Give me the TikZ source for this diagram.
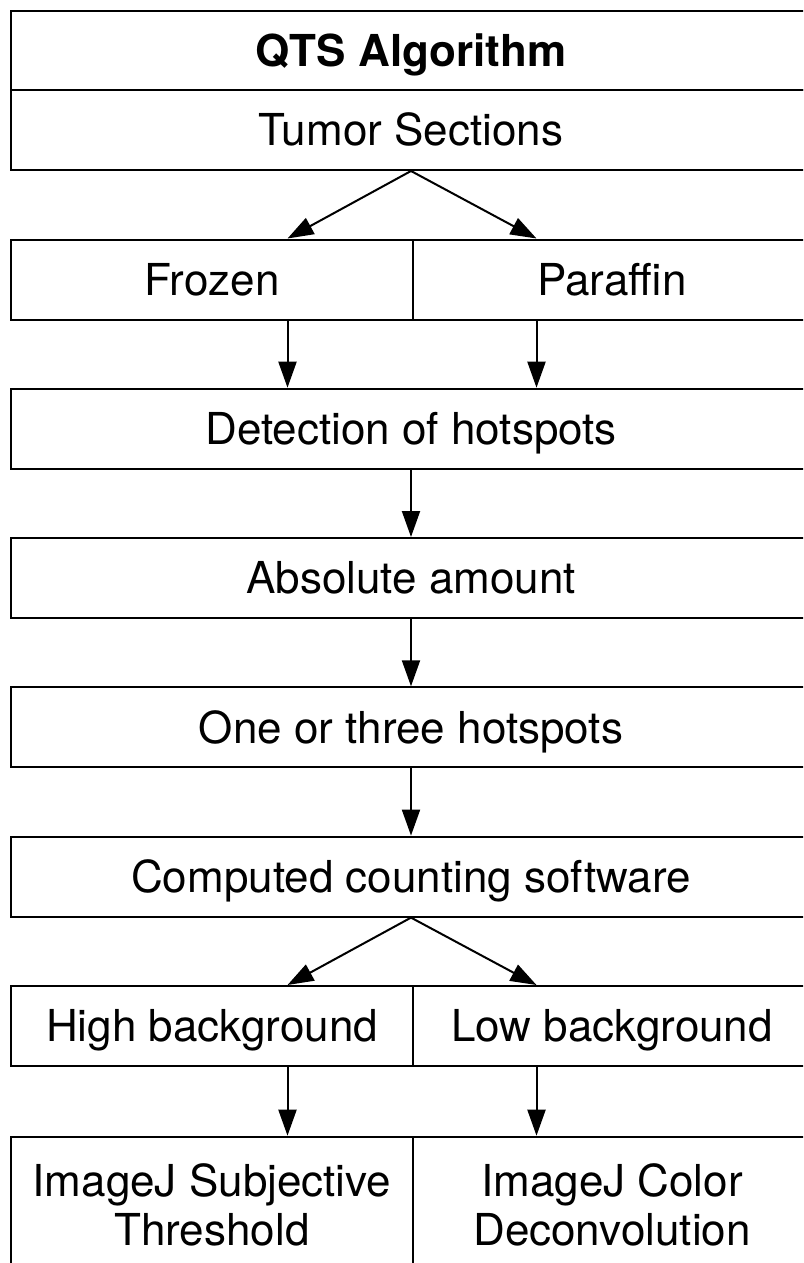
\documentclass[tikz,border=0pt]{standalone}
\usepackage{fontspec}
\setmainfont{TeX Gyre Heros}
\usetikzlibrary{arrows.meta}
\tikzset{
  cell/.style={draw, line width=2pt, inner sep=0pt, align=center,
    font=\fontsize{44}{48.4}\selectfont, minimum height=80pt},
  oneline/.style={text height=31.6pt, text depth=0pt},
  wide/.style={cell, oneline, minimum width=800pt},
  lhalf/.style={cell, minimum width=402pt},
  rhalf/.style={cell, minimum width=398pt},
  arr/.style={line width=2pt, -{Triangle[length=26pt,width=18pt]}}
}
\begin{document}
\begin{tikzpicture}[x=1pt,y=-1pt]
\useasboundingbox (0,0) rectangle (803,1263);
\clip (0,0) rectangle (803,1263);

% columns used by the arrows
\coordinate (colL) at (287.5,0);
\coordinate (colR) at (536.5,0);

% header
\node[wide, minimum height=79pt, font=\fontsize{44}{48.4}\selectfont\bfseries] (qts) at (411,50.5) {QTS Algorithm};
\node[wide] (tumor) at (411,130) {Tumor Sections};

% section type
\node[lhalf, oneline] (frozen) at (212,279.5) {Frozen};
\node[rhalf, oneline] (paraffin) at (612,279.5) {Paraffin};

% pipeline
\node[wide] (detect) at (411,428.7) {Detection of hotspots};
\node[wide] (absolute) at (411,578) {Absolute amount};
\node[wide] (hotspots) at (411,727.3) {One or three hotspots};
\node[wide] (software) at (411,876.6) {Computed counting software};

% background level
\node[lhalf, oneline] (high) at (212,1026) {High background};
\node[rhalf, oneline] (low) at (612,1026) {Low background};

% methods
\node[lhalf, minimum height=136pt] (subj) at (212,1204.7) {ImageJ Subjective\\Threshold};
\node[rhalf, minimum height=136pt] (deconv) at (612,1204.7) {ImageJ Color\\Deconvolution};

% connectors
\draw[arr] (tumor.south) -- (frozen.north -| colL);
\draw[arr] (tumor.south) -- (paraffin.north -| colR);
\draw[arr] (frozen.south -| colL) -- (detect.north -| colL);
\draw[arr] (paraffin.south -| colR) -- (detect.north -| colR);
\draw[arr] (detect.south) -- (absolute.north);
\draw[arr] (absolute.south) -- (hotspots.north);
\draw[arr] (hotspots.south) -- (software.north);
\draw[arr] (software.south) -- (high.north -| colL);
\draw[arr] (software.south) -- (low.north -| colR);
\draw[arr] (high.south -| colL) -- (subj.north -| colL);
\draw[arr] (low.south -| colR) -- (deconv.north -| colR);
\end{tikzpicture}
\end{document}
